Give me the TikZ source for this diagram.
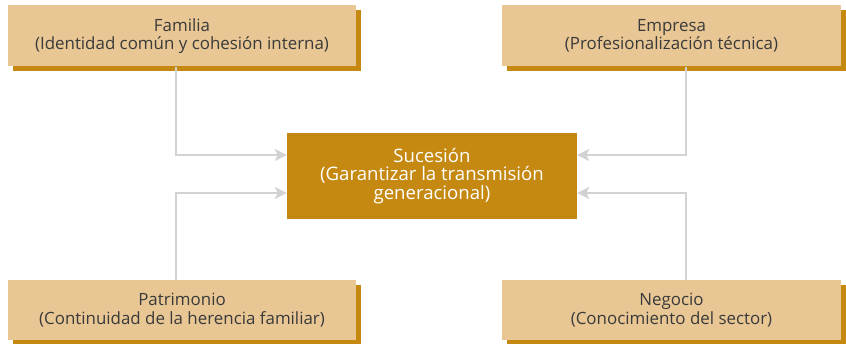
\documentclass[tikz,border=0pt]{standalone}
\usepackage{fontspec}
\setmainfont{Open Sans}
\usetikzlibrary{arrows.meta,shadows}
\definecolor{boxfill}{HTML}{E8C795}
\definecolor{gold}{HTML}{C58911}
\definecolor{ink}{HTML}{3A3A3A}
\definecolor{linkgray}{HTML}{D2D2D2}
\tikzset{
  topic/.style={fill=boxfill, text=ink, align=center, inner sep=0pt,
    minimum height=61pt, font=\fontsize{16.9}{18.5}\selectfont,
    general shadow={fill=gold, shadow xshift=5pt, shadow yshift=-5pt}},
  core/.style={fill=gold, text=white, align=center, inner sep=0pt,
    minimum width=290pt, minimum height=86pt, font=\fontsize{18.6}{18.8}\selectfont},
  link/.style={draw=linkgray, line width=2.4pt,
    -{Stealth[length=12pt, width=12pt, inset=3pt]}}
}
\begin{document}
\begin{tikzpicture}[x=1pt, y=-1pt]
\useasboundingbox (0,0) rectangle (846,344);
\node[topic, minimum width=348pt] (fam) at (182,36)
  {Familia\\(Identidad común y cohesión interna)};
\node[topic, minimum width=339pt] (emp) at (671.5,36)
  {Empresa\\(Profesionalización técnica)};
\node[topic, minimum width=348pt, minimum height=60pt] (pat) at (182,310)
  {Patrimonio\\(Continuidad de la herencia familiar)};
\node[topic, minimum width=339pt, minimum height=60pt] (neg) at (671.5,310)
  {Negocio\\(Conocimiento del sector)};
\node[core] (suc) at (432,176)
  {Sucesión\\(Garantizar la transmisión\\generacional)};
\draw[link] ([xshift=-6pt]fam.south) |- ([yshift=21pt]suc.west);
\draw[link] ([xshift=-6pt]pat.north) |- ([yshift=-17pt]suc.west);
\draw[link] ([xshift=14.5pt]emp.south) |- ([yshift=21pt]suc.east);
\draw[link] ([xshift=14.5pt]neg.north) |- ([yshift=-17pt]suc.east);
\end{tikzpicture}
\end{document}
